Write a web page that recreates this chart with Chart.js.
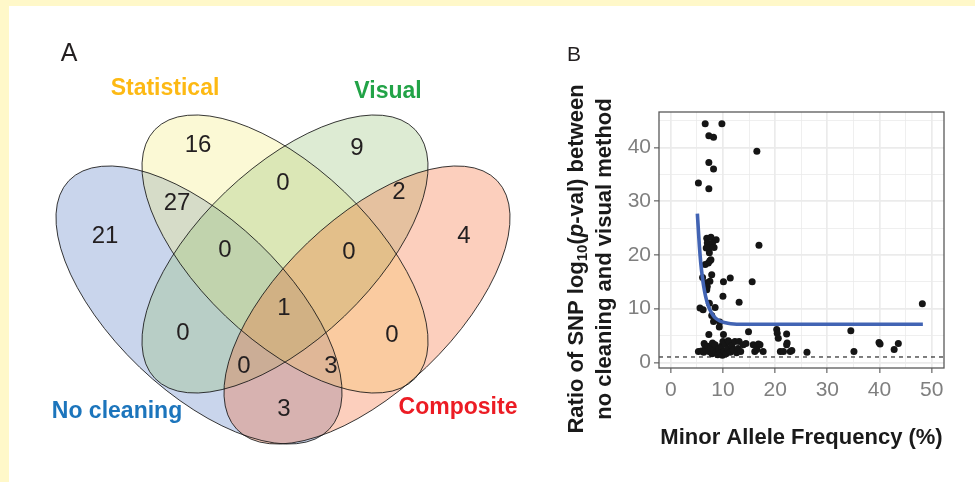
<!DOCTYPE html>
<html>
<head>
<meta charset="utf-8">
<script src="https://cdn.jsdelivr.net/npm/chart.js@4.4.1/dist/chart.umd.min.js"></script>
<style>
html, body { margin: 0; padding: 0; }
body { width: 975px; height: 482px; background: #fff8c9; position: relative; overflow: hidden; }
#panel { position: absolute; left: 9px; top: 6px; right: 0; bottom: 0; background: #fff; }
#venn { position: absolute; left: 0; top: 0; }
#scatter { position: absolute; left: 560px; top: 0; }
</style>
</head>
<body>
<div id="panel"></div>
<canvas id="venn" width="560" height="482"></canvas>
<canvas id="scatter" width="415" height="482"></canvas>
<script>
// ---- panel A: SNPs found by each cleaning method ----
var setNames = ['No cleaning', 'Statistical', 'Visual', 'Composite'];
var regionNames = ['N', 'S', 'V', 'C', 'NS', 'SV', 'VC', 'NSV', 'SVC', 'NSVC', 'NV', 'SC', 'NVC', 'NSC', 'NC'];
var regionCounts = [21, 16, 9, 4, 27, 0, 2, 0, 0, 1, 0, 0, 0, 3, 3];

// ---- panel B: ratio vs minor allele frequency ----
var maf = [6.6, 9.8, 7.3, 8.2, 16.5, 7.3, 8.2, 5.3, 7.3,
  6.9, 7.7, 8.7, 7.0, 8.0, 7.5, 6.8, 8.3, 16.9, 7.7, 7.4, 6.6, 7.2, 7.5, 7.85, 6.1,
  6.9, 7.5, 7.0, 6.9, 10.1, 11.4, 15.6, 10.0, 13.1, 7.4, 5.6, 6.2, 8.5, 7.85, 8.2, 9.4, 48.2,
  9.3, 7.3, 10.1, 14.9, 20.3, 20.4, 20.6, 22.2, 34.5,
  5.3, 6.4, 5.9, 6.3, 6.6, 6.8, 7.1, 7.3, 7.6, 7.9, 8.2, 8.0, 8.5, 8.7, 9.0, 9.2, 9.5, 9.7,
  9.9, 10.2, 10.0, 10.4, 10.6, 10.9, 11.0, 11.2, 11.4, 11.7, 12.0, 12.3, 12.6, 12.9, 13.1,
  13.4, 13.9, 14.4, 15.8, 16.1, 16.8, 17.1, 17.7, 16.5, 21.0, 21.6, 22.2, 22.3, 22.9, 23.2,
  26.1, 35.1, 39.9, 40.1, 42.8, 43.6];
var ratio = [44.4, 44.4, 42.2, 41.9, 39.3, 37.2, 36.0, 33.4, 32.3,
  23.1, 23.3, 22.8, 22.2, 22.2, 21.4, 21.3, 21.4, 21.8, 19.1, 20.4, 18.2, 18.5, 18.9, 16.3, 15.8,
  14.8, 15.1, 14.1, 13.5, 15.0, 15.7, 15.0, 12.3, 11.2, 11.0, 10.1, 9.8, 10.2, 8.7, 7.6, 7.5, 10.9,
  6.6, 5.2, 5.2, 5.7, 6.1, 5.4, 4.5, 5.3, 5.9,
  2.0, 3.5, 2.1, 1.9, 3.1, 2.4, 3.0, 2.0, 2.6, 1.6, 2.2, 3.6, 3.3, 1.8, 1.4, 2.5, 1.7, 3.0,
  1.3, 2.0, 3.9, 3.4, 1.6, 2.6, 4.0, 3.8, 1.9, 3.1, 2.3, 3.9, 1.8, 2.6, 3.9,
  2.0, 3.3, 3.5, 3.3, 2.0, 3.4, 3.3, 2.0, 2.4, 2.0, 2.0, 3.3, 3.6, 2.0, 2.2,
  1.9, 2.0, 3.7, 3.4, 2.4, 3.5];
// smoothed fit
var fitMaf = [5.1, 5.3, 5.5, 5.75, 6.0, 6.3, 6.7, 7.2, 7.8, 8.5, 9.4, 10.5, 11.5, 14, 48.3];
var fitRatio = [27.7, 24.5, 21.5, 18.5, 16.3, 14.2, 12.2, 10.5, 9.2, 8.3, 7.7, 7.35, 7.2, 7.1, 7.1];
var refRatio = 1;
var xMajor = [0, 10, 20, 30, 40, 50];
var yMajor = [0, 10, 20, 30, 40];

// ---- layout of the venn (canvas pixels) ----
var regionPos = [[105, 236], [198, 145], [357, 148], [464, 236], [177, 203], [283, 183], [399, 192],
  [225, 250], [349, 252], [284, 308], [183, 333], [392, 335], [244, 366], [331, 366], [284, 409]];
var ellA = 180, ellB = 86;
var ellipses = [
  { cx: 199, cy: 305, rot: 43.7 },
  { cx: 285, cy: 254, rot: 43.7 },
  { cx: 285, cy: 254, rot: -43.7 },
  { cx: 367, cy: 305, rot: -43.7 }
];
var ellFill = ['rgba(75,115,192,0.3)', 'rgba(242,235,115,0.3)', 'rgba(142,188,108,0.3)', 'rgba(245,95,35,0.3)'];
var setLabelPos = [[117, 412], [165, 89], [388, 92], [458, 408]];
var setColors = ['#1c75bc', '#fdb913', '#22a347', '#ec1c24'];

Chart.defaults.font.family = '"Liberation Sans", Arial, sans-serif';
Chart.defaults.animation = false;
Chart.defaults.plugins.legend.display = false;
Chart.defaults.plugins.tooltip.enabled = false;

var vennPlugin = {
  id: 'venn',
  beforeDatasetsDraw: function(chart) {
    var ctx = chart.ctx, xs = chart.scales.x, ys = chart.scales.y;
    var unit = xs.getPixelForValue(1) - xs.getPixelForValue(0);
    ctx.save();
    ellipses.forEach(function(e, i) {
      ctx.beginPath();
      ctx.ellipse(xs.getPixelForValue(e.cx), ys.getPixelForValue(e.cy), ellA * unit, ellB * unit,
        e.rot * Math.PI / 180, 0, 2 * Math.PI);
      ctx.fillStyle = ellFill[i];
      ctx.fill();
    });
    ctx.strokeStyle = 'rgba(20,20,20,0.85)';
    ctx.lineWidth = 1;
    ellipses.forEach(function(e) {
      ctx.beginPath();
      ctx.ellipse(xs.getPixelForValue(e.cx), ys.getPixelForValue(e.cy), ellA * unit, ellB * unit,
        e.rot * Math.PI / 180, 0, 2 * Math.PI);
      ctx.stroke();
    });
    ctx.restore();
  },
  afterDatasetsDraw: function(chart) {
    var ctx = chart.ctx, xs = chart.scales.x, ys = chart.scales.y;
    var meta = chart.getDatasetMeta(0);
    ctx.save();
    ctx.textAlign = 'center';
    ctx.textBaseline = 'middle';
    ctx.fillStyle = '#231f20';
    ctx.font = '24px "Liberation Sans", Arial, sans-serif';
    meta.data.forEach(function(pt, i) {
      ctx.fillText(String(regionCounts[i]), pt.x, pt.y);
    });
    ctx.font = 'bold 23px "Liberation Sans", Arial, sans-serif';
    setNames.forEach(function(n, i) {
      ctx.fillStyle = setColors[i];
      ctx.fillText(n, xs.getPixelForValue(setLabelPos[i][0]), ys.getPixelForValue(setLabelPos[i][1]));
    });
    ctx.fillStyle = '#231f20';
    ctx.font = '25px "Liberation Sans", Arial, sans-serif';
    ctx.fillText('A', xs.getPixelForValue(69), ys.getPixelForValue(54));
    ctx.restore();
  }
};

new Chart(document.getElementById('venn'), {
  type: 'scatter',
  data: {
    labels: regionNames,
    datasets: [{
      data: regionPos.map(function(p) { return { x: p[0], y: p[1] }; }),
      pointRadius: 0
    }]
  },
  options: {
    responsive: false,
    devicePixelRatio: 1,
    layout: { padding: 0 },
    scales: {
      x: { type: 'linear', min: 0, max: 560, display: false },
      y: { type: 'linear', min: 0, max: 482, reverse: true, display: false }
    }
  },
  plugins: [vennPlugin]
});

function drawRich(ctx, parts, size) {
  var fonts = parts.map(function(p) {
    if (p[1] === 'sub') return 'bold ' + Math.round(size * 0.7) + 'px "Liberation Sans", Arial, sans-serif';
    if (p[1] === 'it') return 'italic bold ' + size + 'px "Liberation Sans", Arial, sans-serif';
    return 'bold ' + size + 'px "Liberation Sans", Arial, sans-serif';
  });
  var widths = parts.map(function(p, i) { ctx.font = fonts[i]; return ctx.measureText(p[0]).width; });
  var total = widths.reduce(function(a, b) { return a + b; }, 0);
  var x = -total / 2;
  parts.forEach(function(p, i) {
    ctx.font = fonts[i];
    ctx.fillText(p[0], x, p[1] === 'sub' ? size * 0.28 : 0);
    x += widths[i];
  });
}

var panelPlugin = {
  id: 'panel',
  beforeDatasetsDraw: function(chart) {
    var ctx = chart.ctx, a = chart.chartArea, ys = chart.scales.y;
    var y = ys.getPixelForValue(refRatio);
    ctx.save();
    ctx.strokeStyle = '#000';
    ctx.lineWidth = 1;
    ctx.setLineDash([4, 4]);
    ctx.beginPath();
    ctx.moveTo(a.left, y);
    ctx.lineTo(a.right, y);
    ctx.stroke();
    ctx.restore();
  },
  afterDraw: function(chart) {
    var ctx = chart.ctx, a = chart.chartArea;
    ctx.save();
    ctx.strokeStyle = '#595959';
    ctx.lineWidth = 1.3;
    ctx.strokeRect(a.left, a.top, a.right - a.left, a.bottom - a.top);
    ctx.fillStyle = '#231f20';
    ctx.textAlign = 'center';
    ctx.textBaseline = 'middle';
    ctx.font = '21px "Liberation Sans", Arial, sans-serif';
    ctx.fillText('B', 14, 55);
    ctx.fillStyle = '#1a1a1a';
    ctx.translate(17, 259);
    ctx.rotate(-Math.PI / 2);
    ctx.textAlign = 'left';
    drawRich(ctx, [['Ratio of SNP log', 'n'], ['10', 'sub'], ['(', 'n'], ['p', 'it'], ['-val) between', 'n']], 22);
    ctx.translate(0, 28);
    drawRich(ctx, [['no cleaning and visual method', 'n']], 22);
    ctx.restore();
  }
};

function gridWidth(major) {
  return function(c) { return major.indexOf(c.tick.value) >= 0 ? 1.7 : 0.8; };
}
function tickCol(major) {
  return function(c) { return major.indexOf(c.tick.value) >= 0 ? '#666' : 'rgba(0,0,0,0)'; };
}

new Chart(document.getElementById('scatter'), {
  type: 'scatter',
  data: {
    datasets: [{
      data: maf.map(function(x, i) { return { x: x, y: ratio[i] }; }),
      backgroundColor: '#151515',
      borderWidth: 0,
      pointRadius: 3.5,
      order: 1
    }, {
      type: 'line',
      data: fitMaf.map(function(x, i) { return { x: x, y: fitRatio[i] }; }),
      borderColor: '#4264b4',
      borderWidth: 3.6,
      pointRadius: 0,
      fill: false,
      cubicInterpolationMode: 'monotone',
      order: 0
    }]
  },
  options: {
    responsive: false,
    devicePixelRatio: 1,
    layout: { padding: { top: 112, right: 31, left: 0, bottom: 0 } },
    scales: {
      x: {
        type: 'linear', min: -2.25, max: 52.35,
        afterFit: function(s) { s.height = 114; },
        ticks: {
          stepSize: 5, includeBounds: false, autoSkip: false, maxRotation: 0,
          color: '#7f7f7f', font: { size: 21 }, padding: 5,
          callback: function(v) { return xMajor.indexOf(v) >= 0 ? String(v) : ''; }
        },
        grid: { color: '#ebebeb', lineWidth: gridWidth(xMajor), tickLength: 5, tickWidth: 1.2, tickColor: tickCol(xMajor) },
        border: { display: false },
        title: {
          display: true, text: 'Minor Allele Frequency (%)', color: '#1a1a1a',
          font: { size: 22, weight: 'bold' }, padding: { top: 0, bottom: 31 }
        }
      },
      y: {
        type: 'linear', min: -1.05, max: 46.6,
        afterFit: function(s) { s.width = 99; },
        ticks: {
          stepSize: 5, includeBounds: false, autoSkip: false,
          color: '#7f7f7f', font: { size: 21 }, padding: 3,
          callback: function(v) { return yMajor.indexOf(v) >= 0 ? String(v) : ''; }
        },
        grid: { color: '#ebebeb', lineWidth: gridWidth(yMajor), tickLength: 5, tickWidth: 1.2, tickColor: tickCol(yMajor) },
        border: { display: false }
      }
    }
  },
  plugins: [panelPlugin]
});
</script>
</body>
</html>
